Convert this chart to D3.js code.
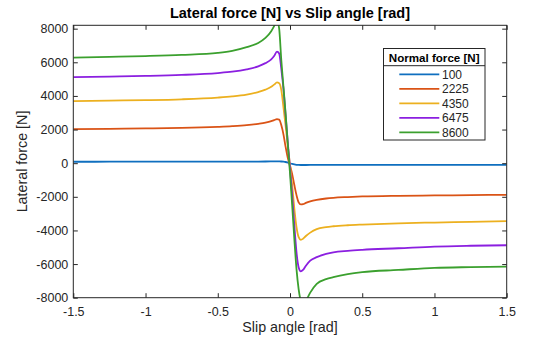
<!DOCTYPE html>
<html>
<head>
<meta charset="utf-8">
<script src="https://cdn.jsdelivr.net/npm/d3@7"></script>
<style>
  body { margin: 0; background: #fff; }
  svg { display: block; font-family: "Liberation Sans", Arial, Helvetica, sans-serif; }
</style>
</head>
<body>
<svg id="chart" width="560" height="337"></svg>
<script>
// Datos: ángulo de deriva y fuerza lateral para cada carga normal
const slipAngles = [-1.5, -1.25, -1.0, -0.75, -0.5, -0.4, -0.3, -0.22, -0.17, -0.13, -0.11, -0.09, -0.075, -0.06, -0.045, -0.03, -0.015, 0,
  0.015, 0.03, 0.045, 0.06, 0.075, 0.09, 0.11, 0.14, 0.185, 0.25, 0.3, 0.4, 0.5, 0.75, 1.0, 1.25, 1.5]

const force100 = [85, 87, 88, 90, 92, 94, 96, 98, 100, 102, 103, 104, 103, 100, 90, 70, 35, -5,
  -45, -75, -95, -105, -108, -108, -107, -106, -105, -104, -103, -102, -101, -99, -97, -96, -95]

const force2225 = [2030, 2045, 2065, 2095, 2160, 2200, 2260, 2340, 2410, 2500, 2565, 2620, 2590, 2250, 1700, 950, 300, -150,
  -650, -1300, -1900, -2330, -2455, -2440, -2360, -2270, -2180, -2100, -2060, -2015, -1980, -1940, -1920, -1900, -1880]

const force4350 = [3695, 3720, 3750, 3800, 3900, 3970, 4080, 4230, 4370, 4540, 4670, 4800, 4760, 4350, 3300, 2200, 1000, -100,
  -1300, -2700, -3800, -4400, -4560, -4500, -4330, -4130, -3920, -3800, -3750, -3690, -3650, -3575, -3530, -3490, -3450]

const force6475 = [5120, 5150, 5190, 5250, 5360, 5440, 5580, 5760, 5950, 6170, 6370, 6640, 6520, 5600, 4400, 2800, 1200, -300,
  -1900, -3700, -5300, -6200, -6430, -6350, -6100, -5800, -5590, -5400, -5300, -5210, -5150, -5060, -4960, -4910, -4880]

const force8600 = [6280, 6320, 6370, 6440, 6560, 6680, 6900, 7150, 7450, 7850, 8150, 8500, 8000, 6100, 4500, 2900, 1100, -600,
  -2500, -4500, -6300, -7500, -8200, -8400, -8200, -7700, -7180, -6900, -6780, -6600, -6480, -6350, -6225, -6180, -6150]

const normalForces = ["100", "2225", "4350", "6475", "8600"]
const xTicks = [-1.5, -1, -0.5, 0, 0.5, 1, 1.5]
const yTicks = [-8000, -6000, -4000, -2000, 0, 2000, 4000, 6000, 8000]

// Colores de cada serie
const colors = ["#0F6FBF", "#DA5316", "#ECB01F", "#8B1FE0", "#3BA02E"]

const seriesList = [force100, force2225, force4350, force6475, force8600]

// Área del gráfico
const plotLeft = 73.3
const plotRight = 506.7
const plotTop = 25.3
const plotBottom = 297.7
const axisColor = "#262626"

const svg = d3.select("#chart")

const x = d3.scaleLinear().domain([-1.5, 1.5]).range([plotLeft, plotRight])
const y = d3.scaleLinear().domain([-8000, 8200]).range([plotBottom, plotTop])

svg.append("defs").append("clipPath")
  .attr("id", "plotClip")
  .append("rect")
  .attr("x", plotLeft)
  .attr("y", plotTop)
  .attr("width", plotRight - plotLeft)
  .attr("height", plotBottom - plotTop)

// Curvas
const line = d3.line()
  .x(function(d) { return x(d[0]) })
  .y(function(d) { return y(d[1]) })
  .curve(d3.curveMonotoneX)

svg.append("g")
  .attr("clip-path", "url(#plotClip)")
  .selectAll("path")
  .data(seriesList)
  .join("path")
  .attr("fill", "none")
  .attr("stroke", function(d, i) { return colors[i] })
  .attr("stroke-width", 1.8)
  .attr("stroke-linejoin", "round")
  .attr("d", function(values) {
      return line(slipAngles.map(function(a, i) { return [a, values[i]] }))
  })

// Ejes
const fmt = function(d) { return String(d) }

svg.append("g")
  .attr("transform", "translate(0," + plotBottom + ")")
  .call(d3.axisBottom(x).tickValues(xTicks).tickFormat(fmt).tickSizeInner(-4.5).tickSizeOuter(0).tickPadding(9.5))

svg.append("g")
  .attr("transform", "translate(" + plotLeft + ",0)")
  .call(d3.axisLeft(y).tickValues(yTicks).tickFormat(fmt).tickSizeInner(-4.5).tickSizeOuter(0).tickPadding(5))

svg.append("g")
  .attr("transform", "translate(0," + plotTop + ")")
  .call(d3.axisTop(x).tickValues(xTicks).tickFormat("").tickSizeInner(-4.5).tickSizeOuter(0))

svg.append("g")
  .attr("transform", "translate(" + plotRight + ",0)")
  .call(d3.axisRight(y).tickValues(yTicks).tickFormat("").tickSizeInner(-4.5).tickSizeOuter(0))

svg.selectAll(".domain").remove()
svg.selectAll(".tick line").attr("stroke", axisColor)
svg.selectAll(".tick text")
  .attr("fill", axisColor)
  .style("font-size", "12.5px")
  .style("font-family", "'Liberation Sans', Arial, sans-serif")

// Caja
svg.append("rect")
  .attr("x", plotLeft)
  .attr("y", plotTop)
  .attr("width", plotRight - plotLeft)
  .attr("height", plotBottom - plotTop)
  .attr("fill", "none")
  .attr("stroke", axisColor)
  .attr("stroke-width", 1)

// Títulos
svg.append("text")
  .attr("x", (plotLeft + plotRight) / 2)
  .attr("y", 18)
  .attr("text-anchor", "middle")
  .attr("font-weight", "bold")
  .attr("font-size", "14.5px")
  .attr("fill", "#000")
  .text("Lateral force [N] vs Slip angle [rad]")

svg.append("text")
  .attr("x", (plotLeft + plotRight) / 2)
  .attr("y", 332)
  .attr("text-anchor", "middle")
  .attr("font-size", "14.3px")
  .attr("fill", axisColor)
  .text("Slip angle [rad]")

svg.append("text")
  .attr("transform", "translate(27," + ((plotTop + plotBottom) / 2) + ") rotate(-90)")
  .attr("text-anchor", "middle")
  .attr("font-size", "14.3px")
  .attr("fill", axisColor)
  .text("Lateral force [N]")

// Leyenda
const legend = svg.append("g")

legend.append("rect")
  .attr("x", 383.5)
  .attr("y", 48.5)
  .attr("width", 101.5)
  .attr("height", 91.5)
  .attr("fill", "#fff")
  .attr("stroke", axisColor)
  .attr("stroke-width", 1)

legend.append("line")
  .attr("x1", 383.5)
  .attr("x2", 485)
  .attr("y1", 65.7)
  .attr("y2", 65.7)
  .attr("stroke", axisColor)
  .attr("stroke-width", 1)

legend.append("text")
  .attr("x", 434.2)
  .attr("y", 61.8)
  .attr("text-anchor", "middle")
  .attr("font-weight", "bold")
  .attr("font-size", "11.6px")
  .attr("fill", "#000")
  .text("Normal force [N]")

const entries = legend.selectAll("g.entry")
  .data(normalForces)
  .join("g")
  .attr("class", "entry")
  .attr("transform", function(d, i) { return "translate(0," + (74.3 + i * 14.5) + ")" })

entries.append("line")
  .attr("x1", 399.3)
  .attr("x2", 439.3)
  .attr("stroke", function(d, i) { return colors[i] })
  .attr("stroke-width", 1.8)

entries.append("text")
  .attr("x", 442)
  .attr("y", 4.3)
  .attr("font-size", "12px")
  .attr("fill", axisColor)
  .text(function(d) { return d })
</script>
</body>
</html>
